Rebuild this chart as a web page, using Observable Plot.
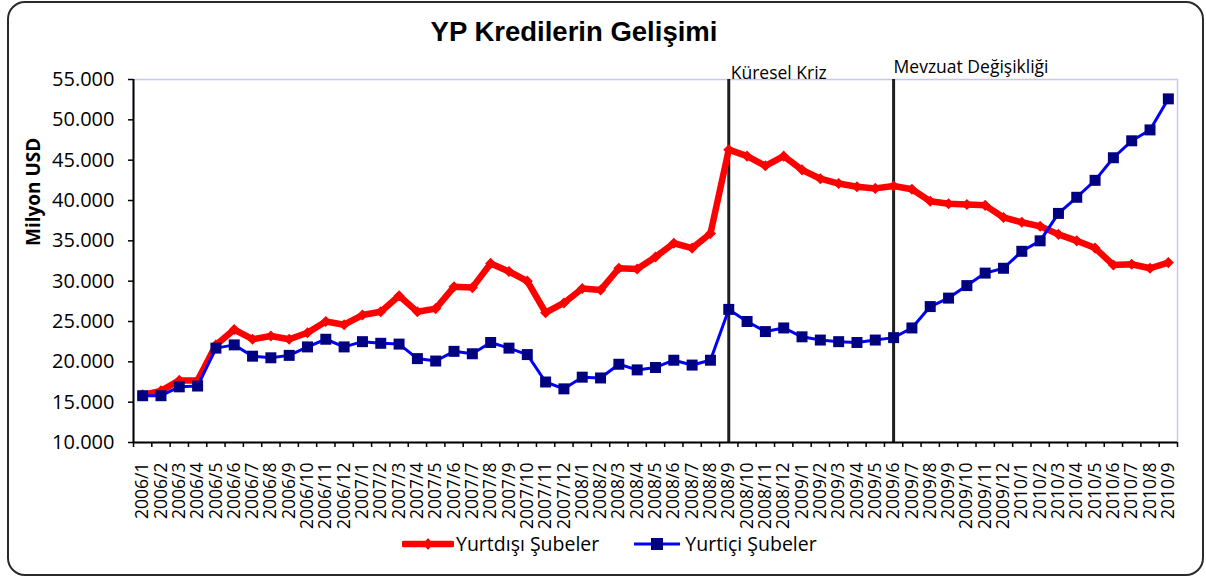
<!DOCTYPE html>
<html>
<head>
<meta charset="utf-8">
<script src="https://cdn.jsdelivr.net/npm/d3@7"></script>
<script src="https://cdn.jsdelivr.net/npm/@observablehq/plot@0.6"></script>
<style>
  html, body { margin: 0; padding: 0; background: #fff; }
  #wrap { position: relative; width: 1206px; height: 577px; overflow: hidden; font-family: "Open Sans", sans-serif; }
  #frame { position: absolute; left: 7px; top: 1px; width: 1193px; height: 571px; border: 2px solid #2a2a2a; border-radius: 18px; pointer-events: none; }
  #title { position: absolute; left: 0; width: 1148px; top: 16px; text-align: center; font-family: "Liberation Sans", Arial, sans-serif; font-weight: bold; font-size: 27.5px; color: #000; }
  #legend { position: absolute; left: 402px; top: 530px; display: flex; align-items: center; font-size: 19.5px; color: #000; }
  #legend .item { display: flex; align-items: center; margin-right: 34px; }
  #legend svg { display: block; }
  #chart svg { font-family: "Open Sans", sans-serif; }
</style>
</head>
<body>
<div id="wrap">
  <div id="chart"></div>
  <div id="title"></div>
  <div id="legend"></div>
  <div id="frame"></div>
</div>
<script>
const chartTitle = "YP Kredilerin Gelişimi";
const yLabel = "Milyon USD";
const months = [
  "2006/1","2006/2","2006/3","2006/4","2006/5","2006/6","2006/7","2006/8","2006/9","2006/10","2006/11","2006/12",
  "2007/1","2007/2","2007/3","2007/4","2007/5","2007/6","2007/7","2007/8","2007/9","2007/10","2007/11","2007/12",
  "2008/1","2008/2","2008/3","2008/4","2008/5","2008/6","2008/7","2008/8","2008/9","2008/10","2008/11","2008/12",
  "2009/1","2009/2","2009/3","2009/4","2009/5","2009/6","2009/7","2009/8","2009/9","2009/10","2009/11","2009/12",
  "2010/1","2010/2","2010/3","2010/4","2010/5","2010/6","2010/7","2010/8","2010/9"
];
const seriesNames = ["Yurtdışı Şubeler", "Yurtiçi Şubeler"];
const yurtdisi = [
  15900,16400,17700,17700,22100,24000,22800,23200,22800,23600,25000,24600,
  25800,26200,28200,26200,26600,29300,29200,32200,31200,30000,26100,27300,
  29100,28900,31600,31500,33000,34700,34100,35900,46300,45500,44300,45500,
  43800,42700,42100,41700,41500,41800,41400,39900,39600,39500,39400,37900,
  37300,36800,35800,35000,34100,32000,32100,31600,32300
];
const yurtici = [
  15800,15800,16900,17000,21700,22100,20700,20500,20800,21850,22800,21850,
  22500,22300,22200,20400,20100,21300,21000,22400,21700,20900,17500,16650,
  18100,18000,19700,19000,19300,20200,19600,20200,26500,25000,23750,24200,
  23100,22700,22500,22400,22700,23000,24200,26850,27900,29450,31000,31600,
  33700,35000,38400,40400,42500,45300,47400,48750,52600
];
const eventMonths = ["2008/9", "2009/6"];
const eventLabels = ["Küresel Kriz", "Mevzuat Değişikliği"];
const yTicks = [10000,15000,20000,25000,30000,35000,40000,45000,50000,55000];

const data = months.map((m, i) => ({i, month: m, d: yurtdisi[i], t: yurtici[i]}));
const events = eventMonths.map((m, k) => ({i: months.indexOf(m), label: eventLabels[k]}));
const locale = d3.formatLocale({decimal: ",", thousands: ".", grouping: [3], currency: ["", ""]});
const fmt = locale.format(",.0f");

document.getElementById("title").textContent = chartTitle;

const chart = Plot.plot({
  width: 1206,
  height: 577,
  marginLeft: 133,
  marginRight: 29,
  marginTop: 79,
  marginBottom: 135,
  x: {type: "linear", domain: [-0.5, months.length - 0.5]},
  y: {domain: [10000, 55000]},
  marks: [
    Plot.frame({stroke: "#c8c8f0", strokeWidth: 1.5}),
    Plot.ruleX(events, {x: "i", stroke: "#1e1e1e", strokeWidth: 3}),
    Plot.line(data, {x: "i", y: "d", stroke: "#ff0000", strokeWidth: 6.5, strokeLinejoin: "round"}),
    Plot.dot(data, {x: "i", y: "d", symbol: "diamond2", r: 5, fill: "#ff0000", stroke: null}),
    Plot.line(data, {x: "i", y: "t", stroke: "#0000ff", strokeWidth: 3}),
    Plot.dot(data, {x: "i", y: "t", symbol: "square", r: 6.2, fill: "#000080", stroke: null}),
    Plot.ruleX([-0.5], {stroke: "#000", strokeWidth: 2}),
    Plot.ruleY([10000], {stroke: "#000", strokeWidth: 2}),
    Plot.axisY({ticks: yTicks, tickFormat: fmt, tickSize: 5, tickPadding: 14, fontSize: 20, label: null, stroke: "#000", strokeWidth: 1.5, fill: "#000"}),
    Plot.axisX({ticks: d3.range(months.length + 1).map(k => k - 0.5), tickFormat: () => "", tickSize: 5, label: null, stroke: "#000", strokeWidth: 1.5}),
    Plot.axisX({ticks: d3.range(months.length), tickFormat: k => months[k], tickSize: 0, tickPadding: 20, tickRotate: -90, fontSize: 17.5, label: null, fill: "#000"}),
    Plot.text([yLabel], {frameAnchor: "left", text: d => d, rotate: -90, dx: -100, dy: -15, fontSize: 19, fontWeight: "bold", fill: "#000"}),
    Plot.text(events.slice(0, 1), {x: "i", text: "label", frameAnchor: "top", textAnchor: "start", dx: 2, dy: -13, fontSize: 17.5, fill: "#000"}),
    Plot.text(events.slice(1, 2), {x: "i", text: "label", frameAnchor: "top", textAnchor: "start", dx: 0, dy: -19, fontSize: 17.5, fill: "#000"})
  ]
});
document.getElementById("chart").appendChild(chart);

const legend = document.getElementById("legend");
const swatches = [
  `<svg width="52" height="14"><line x1="2" y1="7" x2="50" y2="7" stroke="#ff0000" stroke-width="6.5" stroke-linecap="round"/><path d="M26 1 L31 7 L26 13 L21 7 Z" fill="#ff0000"/></svg>`,
  `<svg width="50" height="16"><line x1="1" y1="8" x2="47" y2="8" stroke="#0000ff" stroke-width="3"/><rect x="18" y="2" width="12" height="12" fill="#000080"/></svg>`
];
seriesNames.forEach((name, k) => {
  const item = document.createElement("div");
  item.className = "item";
  item.innerHTML = swatches[k] + `<span style="margin-left:2px">${name}</span>`;
  legend.appendChild(item);
});
</script>
</body>
</html>
